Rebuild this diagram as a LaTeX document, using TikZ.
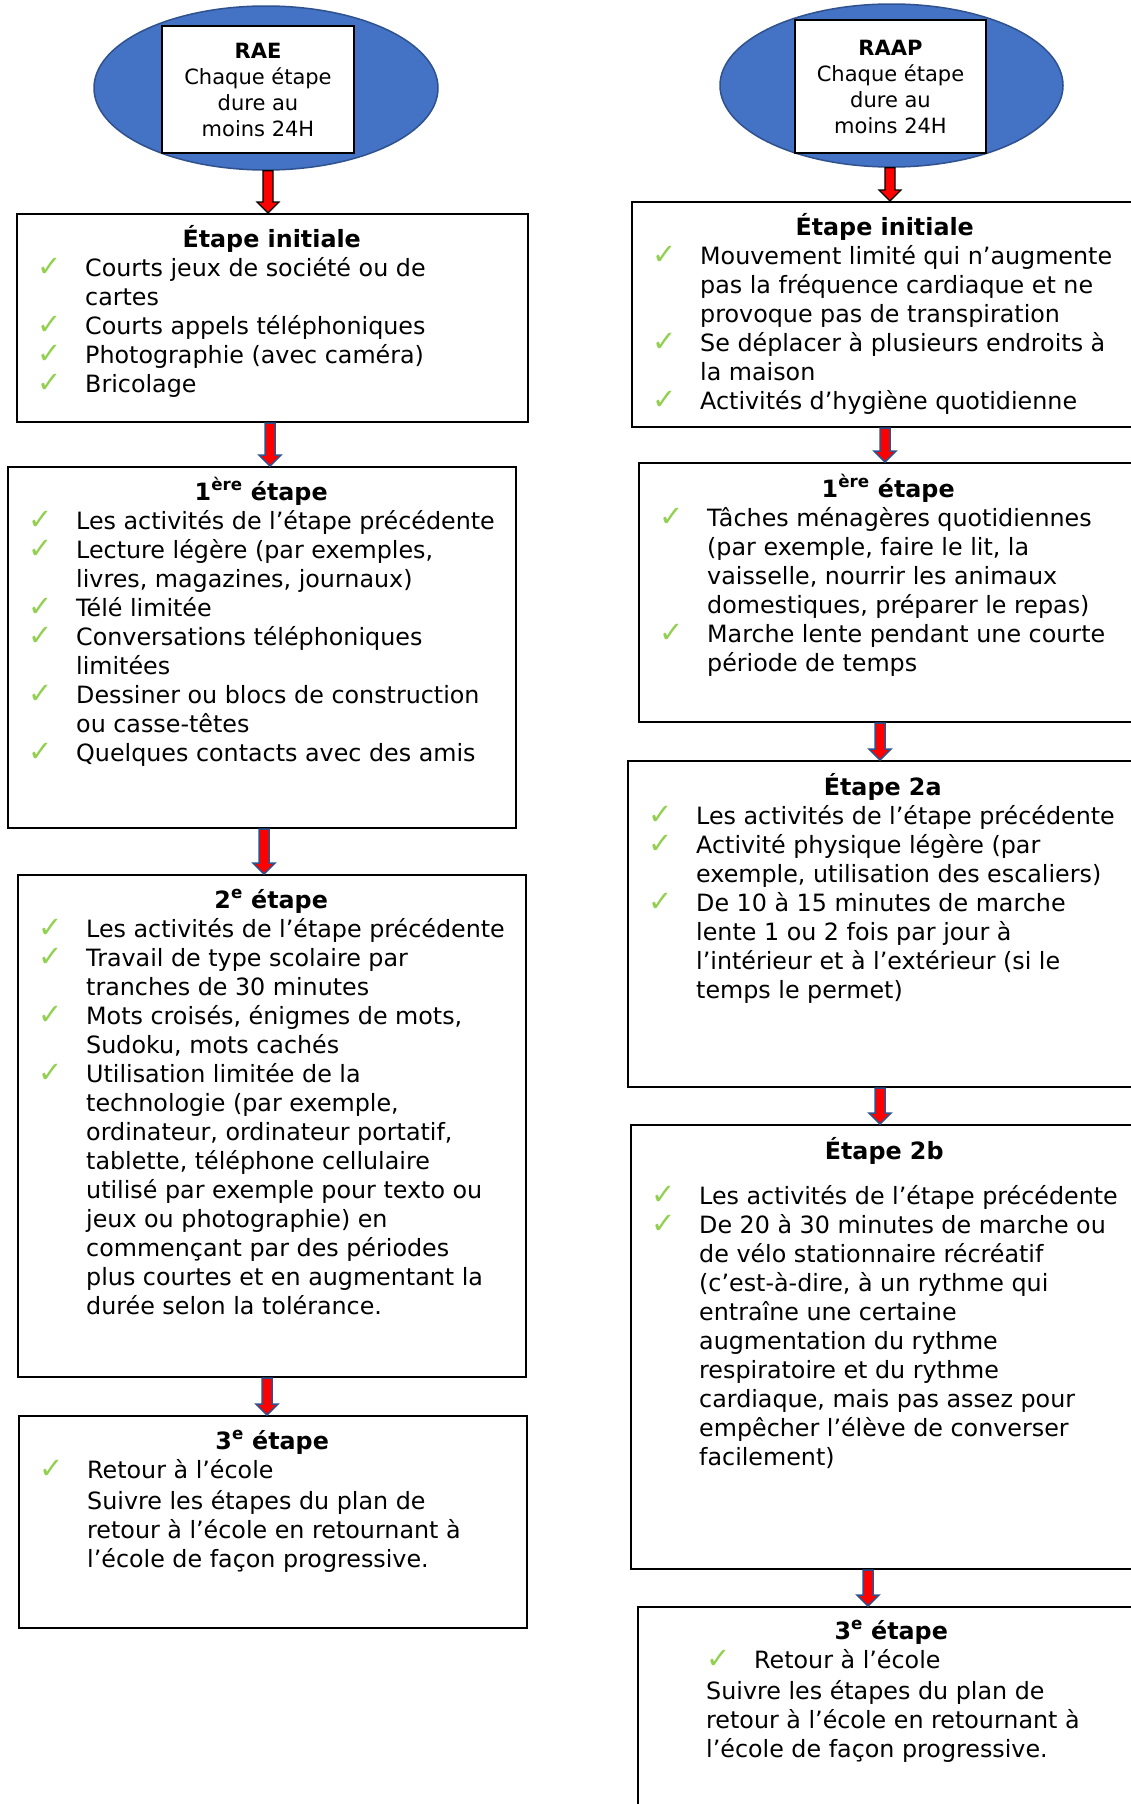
\documentclass[tikz,border=0pt]{standalone}
\usepackage{fontspec}
\setmainfont{DejaVu Sans}
\usetikzlibrary{shapes.geometric,calc}
\definecolor{ellblue}{HTML}{4472C4}
\definecolor{ellline}{HTML}{2F528F}
\definecolor{ckgreen}{HTML}{92D050}
\newcommand\ck{\textcolor{ckgreen}{\fontsize{29}{29}\selectfont ✓}}
\newcommand\itm[1]{\par\hspace*{21pt}\makebox[48pt][l]{\ck}\mbox{#1}}
\newcommand\cnt[1]{\par\hspace*{69pt}\mbox{#1}}
\newcommand\ttl[2]{\makebox[#1][c]{\bfseries #2}\par}
\newcommand\blockarrow[4]{%
  \draw[#1] let \p1=(#2.south), \p2=(#3.north) in
  (#4pt-5pt,\y1) -- (#4pt+5pt,\y1) -- (#4pt+5pt,\y2+11pt) -- (#4pt+11pt,\y2+11pt)
  -- (#4pt,\y2) -- (#4pt-11pt,\y2+11pt) -- (#4pt-5pt,\y2+11pt) -- cycle;}
\tikzset{
  stepbox/.style={draw=black, line width=2pt, rectangle, inner sep=0pt, anchor=north west, fill=white},
  stepcontent/.style={anchor=base west, inner sep=0pt, font=\fontsize{23.8}{29}\selectfont},
  bigell/.style={ellipse, fill=ellblue, draw=ellline, line width=1.5pt, inner sep=0pt},
  headbox/.style={rectangle, fill=white, draw=black, line width=2pt, inner sep=0pt, align=center, font=\fontsize{21}{26}\selectfont},
  arrblk/.style={fill=red, draw=black, line width=1.2pt},
  arrblu/.style={fill=red, draw=ellline, line width=1.5pt}
}
\begin{document}
\begin{tikzpicture}[x=1pt,y=1pt]
\fill[white] (0,0) rectangle (1131,-1804);
\useasboundingbox (0,0) rectangle (1131,-1804);

% ---------- heads ----------
\node[bigell, minimum width=344pt, minimum height=164pt] (rae) at (266,-88) {};
\node[headbox, minimum width=192pt, minimum height=127pt] (raebox) at (258,-89.5)
  {\textbf{RAE}\\Chaque étape\\dure au\\moins 24H};
\node[bigell, minimum width=343pt, minimum height=163pt] (raap) at (891.5,-85.5) {};
\node[headbox, minimum width=191pt, minimum height=133pt] (raapbox) at (890.5,-86.5)
  {\textbf{RAAP}\\Chaque étape\\dure au\\moins 24H};

% ---------- left column ----------
\node[stepbox, minimum width=511pt, minimum height=208pt] (li) at (16,-213) {};
\node[stepcontent] (litxt) at ($(li.north west)+(0,-34)$) {\parbox[t]{511pt}{%
  \ttl{511pt}{Étape initiale}
  \itm{Courts jeux de société ou de}
  \cnt{cartes}
  \itm{Courts appels téléphoniques}
  \itm{Photographie (avec caméra)}
  \itm{Bricolage}}};

\node[stepbox, minimum width=508pt, minimum height=361pt] (l1) at (7,-466) {};
\node[stepcontent] (l1txt) at ($(l1.north west)+(0,-34)$) {\parbox[t]{508pt}{%
  \ttl{508pt}{1\textsuperscript{ère} étape}
  \itm{Les activités de l’étape précédente}
  \itm{Lecture légère (par exemples,}
  \cnt{livres, magazines, journaux)}
  \itm{Télé limitée}
  \itm{Conversations téléphoniques}
  \cnt{limitées}
  \itm{Dessiner ou blocs de construction}
  \cnt{ou casse-têtes}
  \itm{Quelques contacts avec des amis}}};

\node[stepbox, minimum width=508pt, minimum height=502pt] (l2) at (17,-874) {};
\node[stepcontent] (l2txt) at ($(l2.north west)+(0,-34)$) {\parbox[t]{508pt}{%
  \ttl{508pt}{2\textsuperscript{e} étape}
  \itm{Les activités de l’étape précédente}
  \itm{Travail de type scolaire par}
  \cnt{tranches de 30 minutes}
  \itm{Mots croisés, énigmes de mots,}
  \cnt{Sudoku, mots cachés}
  \itm{Utilisation limitée de la}
  \cnt{technologie (par exemple,}
  \cnt{ordinateur, ordinateur portatif,}
  \cnt{tablette, téléphone cellulaire}
  \cnt{utilisé par exemple pour texto ou}
  \cnt{jeux ou photographie) en}
  \cnt{commençant par des périodes}
  \cnt{plus courtes et en augmentant la}
  \cnt{durée selon la tolérance.}}};

\node[stepbox, minimum width=508pt, minimum height=212pt] (l3) at (18,-1415) {};
\node[stepcontent] (l3txt) at ($(l3.north west)+(0,-34)$) {\parbox[t]{508pt}{%
  \ttl{508pt}{3\textsuperscript{e} étape}
  \itm{Retour à l’école}\par
  \vspace{2pt}%
  \cnt{Suivre les étapes du plan de}
  \cnt{retour à l’école en retournant à}
  \cnt{l’école de façon progressive.}}};

% ---------- right column ----------
\node[stepbox, minimum width=507pt, minimum height=225pt] (ri) at (631,-201) {};
\node[stepcontent] (ritxt) at ($(ri.north west)+(0,-34)$) {\parbox[t]{507pt}{%
  \ttl{507pt}{Étape initiale}
  \itm{Mouvement limité qui n’augmente}
  \cnt{pas la fréquence cardiaque et ne}
  \cnt{provoque pas de transpiration}
  \itm{Se déplacer à plusieurs endroits à}
  \cnt{la maison}
  \itm{Activités d’hygiène quotidienne}}};

\node[stepbox, minimum width=500pt, minimum height=259pt] (r1) at (638,-462) {};
\node[stepcontent] (r1txt) at ($(r1.north west)+(0,-35)$) {\parbox[t]{500pt}{%
  \ttl{500pt}{1\textsuperscript{ère} étape}
  \itm{Tâches ménagères quotidiennes}
  \cnt{(par exemple, faire le lit, la}
  \cnt{vaisselle, nourrir les animaux}
  \cnt{domestiques, préparer le repas)}
  \itm{Marche lente pendant une courte}
  \cnt{période de temps}}};

\node[stepbox, minimum width=511pt, minimum height=326pt] (r2a) at (627,-760) {};
\node[stepcontent] (r2atxt) at ($(r2a.north west)+(0,-35)$) {\parbox[t]{511pt}{%
  \ttl{511pt}{Étape 2a}
  \itm{Les activités de l’étape précédente}
  \itm{Activité physique légère (par}
  \cnt{exemple, utilisation des escaliers)}
  \itm{De 10 à 15 minutes de marche}
  \cnt{lente 1 ou 2 fois par jour à}
  \cnt{l’intérieur et à l’extérieur (si le}
  \cnt{temps le permet)}}};

\node[stepbox, minimum width=508pt, minimum height=444pt] (r2b) at (630,-1124) {};
\node[stepcontent] (r2btxt) at ($(r2b.north west)+(0,-35)$) {\parbox[t]{508pt}{%
  \ttl{508pt}{Étape 2b}
  \vspace{16pt}%
  \itm{Les activités de l’étape précédente}
  \itm{De 20 à 30 minutes de marche ou}
  \cnt{de vélo stationnaire récréatif}
  \cnt{(c’est-à-dire, à un rythme qui}
  \cnt{entraîne une certaine}
  \cnt{augmentation du rythme}
  \cnt{respiratoire et du rythme}
  \cnt{cardiaque, mais pas assez pour}
  \cnt{empêcher l’élève de converser}
  \cnt{facilement)}}};

\node[stepbox, minimum width=508pt, minimum height=224pt] (r3) at (637,-1606) {};
\node[stepcontent] (r3txt) at ($(r3.north west)+(0,-33)$) {\parbox[t]{508pt}{%
  \ttl{508pt}{3\textsuperscript{e} étape}
  \hspace*{69pt}\makebox[48pt][l]{\ck}\mbox{Retour à l’école}\par
  \vspace{2pt}%
  \cnt{Suivre les étapes du plan de}
  \cnt{retour à l’école en retournant à}
  \cnt{l’école de façon progressive.}}};

% ---------- connectors ----------
\blockarrow{arrblk}{rae}{li}{268}
\blockarrow{arrblk}{raap}{ri}{890}
\blockarrow{arrblu}{li}{l1}{270}
\blockarrow{arrblu}{l1}{l2}{264}
\blockarrow{arrblu}{l2}{l3}{267}
\blockarrow{arrblu}{ri}{r1}{885}
\blockarrow{arrblu}{r1}{r2a}{880}
\blockarrow{arrblu}{r2a}{r2b}{880}
\blockarrow{arrblu}{r2b}{r3}{868}
\end{tikzpicture}
\end{document}
